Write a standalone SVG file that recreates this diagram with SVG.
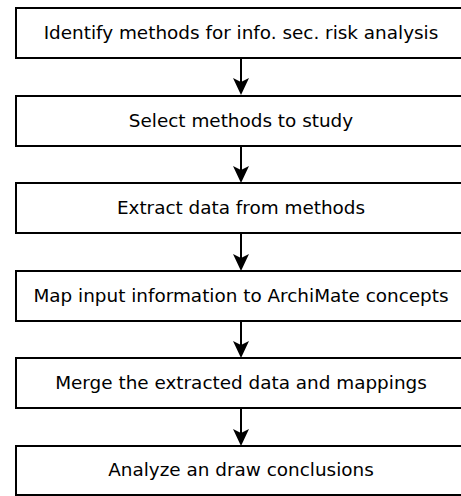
<svg xmlns="http://www.w3.org/2000/svg" width="461" height="496" viewBox="0 0 461 496">
<defs>
<style>
.box{fill:#fff;stroke:#000;stroke-width:2}
.lbl{font-family:"DejaVu Sans",sans-serif;font-size:18.4px;fill:#000;text-anchor:middle}
.conn{stroke:#000;stroke-width:2;fill:none}
</style>
</defs>
<rect width="461" height="496" fill="#fff"/>
<g id="connectors">
<line class="conn" x1="241" y1="58" x2="241" y2="90"/>
<path d="M241,95 L233,78 L241,82 L249,78 Z"/>
<line class="conn" x1="241" y1="146" x2="241" y2="178"/>
<path d="M241,183 L233,166 L241,170 L249,166 Z"/>
<line class="conn" x1="241" y1="233" x2="241" y2="266"/>
<path d="M241,271 L233,254 L241,258 L249,254 Z"/>
<line class="conn" x1="241" y1="321" x2="241" y2="353"/>
<path d="M241,358 L233,341 L241,345 L249,341 Z"/>
<line class="conn" x1="241" y1="408" x2="241" y2="441"/>
<path d="M241,446 L233,429 L241,433 L249,429 Z"/>
</g>
<g id="n1"><rect class="box" x="16" y="8" width="460" height="50"/><text class="lbl" x="241" y="39">Identify methods for info. sec. risk analysis</text></g>
<g id="n2"><rect class="box" x="16" y="96" width="460" height="50"/><text class="lbl" x="241" y="127">Select methods to study</text></g>
<g id="n3"><rect class="box" x="16" y="183" width="460" height="50"/><text class="lbl" x="241" y="214">Extract data from methods</text></g>
<g id="n4"><rect class="box" x="16" y="271" width="460" height="50"/><text class="lbl" x="241" y="302">Map input information to ArchiMate concepts</text></g>
<g id="n5"><rect class="box" x="16" y="358" width="460" height="50"/><text class="lbl" x="241" y="389">Merge the extracted data and mappings</text></g>
<g id="n6"><rect class="box" x="16" y="446" width="460" height="49"/><text class="lbl" x="241" y="476">Analyze an draw conclusions</text></g>
</svg>
